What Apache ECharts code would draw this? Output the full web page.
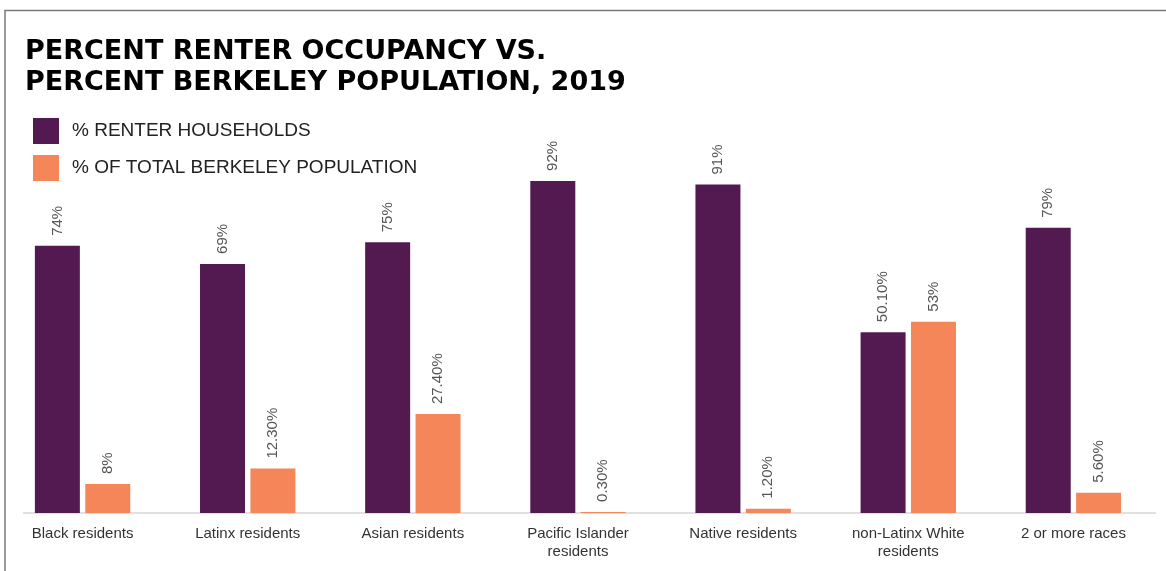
<!DOCTYPE html>
<html>
<head>
<meta charset="utf-8">
<script src="https://cdn.jsdelivr.net/npm/echarts@6/dist/echarts.min.js"></script>
<style>
  html, body { margin: 0; padding: 0; background: #fff; }
  #chart { width: 1166px; height: 571px; }
</style>
</head>
<body>
<div id="chart"></div>
<script>
const categories = [
  'Black residents',
  'Latinx residents',
  'Asian residents',
  'Pacific Islander\nresidents',
  'Native residents',
  'non-Latinx White\nresidents',
  '2 or more races',
]
const renterHouseholds = [74, 69, 75, 92, 91, 50.1, 79]
const renterLabels = ['74%', '69%', '75%', '92%', '91%', '50.10%', '79%']
const populationShare = [8, 12.3, 27.4, 0.3, 1.2, 53, 5.6]
const populationLabels = ['8%', '12.30%', '27.40%', '0.30%', '1.20%', '53%', '5.60%']

function renderChart() {
  const labelStyle = {
    show: true,
    position: 'top',
    rotate: 90,
    align: 'left',
    verticalAlign: 'middle',
    distance: 10,
    fontFamily: 'Liberation Sans',
    fontSize: 15,
    color: '#555',
  }

  const option = {
    animation: false,
    title: {
      text: 'PERCENT RENTER OCCUPANCY VS.\nPERCENT BERKELEY POPULATION, 2019',
      left: 20,
      top: 31,
      textStyle: {
        fontFamily: 'DejaVu Sans',
        fontWeight: 'bold',
        fontSize: 27,
        lineHeight: 31,
        color: '#000',
      },
    },
    legend: {
      orient: 'vertical',
      left: 28,
      top: 113,
      itemWidth: 26,
      itemHeight: 26,
      itemGap: 11,
      icon: 'rect',
      textStyle: {
        fontFamily: 'Liberation Sans',
        fontSize: 19,
        color: '#222',
        padding: [0, 0, 0, 8],
      },
      data: ['% RENTER HOUSEHOLDS', '% OF TOTAL BERKELEY POPULATION'],
    },
    graphic: [
      // frame around the figure, cut off on the right and bottom
      {
        type: 'polyline',
        shape: { points: [[5, 580], [5, 10.5], [1180, 10.5]] },
        style: { fill: null, stroke: '#7a7a7a', lineWidth: 1.5 },
      },
      // baseline, a bit shorter than the grid on the left
      {
        type: 'line',
        shape: { x1: 23, y1: 513, x2: 1156, y2: 513 },
        style: { stroke: '#e0e0e0', lineWidth: 2 },
      },
    ],
    grid: {
      left: -3,
      right: 10,
      top: 152,
      bottom: 58,
    },
    xAxis: {
      type: 'category',
      data: categories,
      axisTick: { show: false },
      axisLine: { show: false },
      axisLabel: {
        margin: 12,
        fontFamily: 'Liberation Sans',
        fontSize: 15,
        lineHeight: 18,
        color: '#333',
        interval: 0,
      },
    },
    yAxis: {
      type: 'value',
      min: 0,
      max: 100,
      show: false,
      splitLine: { show: false },
    },
    series: [
      {
        name: '% RENTER HOUSEHOLDS',
        type: 'bar',
        barWidth: 45,
        barGap: '12%',
        data: renterHouseholds,
        itemStyle: { color: '#531a52' },
        label: Object.assign({}, labelStyle, {
          formatter: (p) => renterLabels[p.dataIndex],
        }),
      },
      {
        name: '% OF TOTAL BERKELEY POPULATION',
        type: 'bar',
        barWidth: 45,
        data: populationShare,
        itemStyle: { color: '#f4865a' },
        label: Object.assign({}, labelStyle, {
          formatter: (p) => populationLabels[p.dataIndex],
        }),
      },
    ],
  }

  const myChart = echarts.init(document.getElementById('chart'))
  myChart.setOption(option)
}

renderChart()
</script>
</body>
</html>
